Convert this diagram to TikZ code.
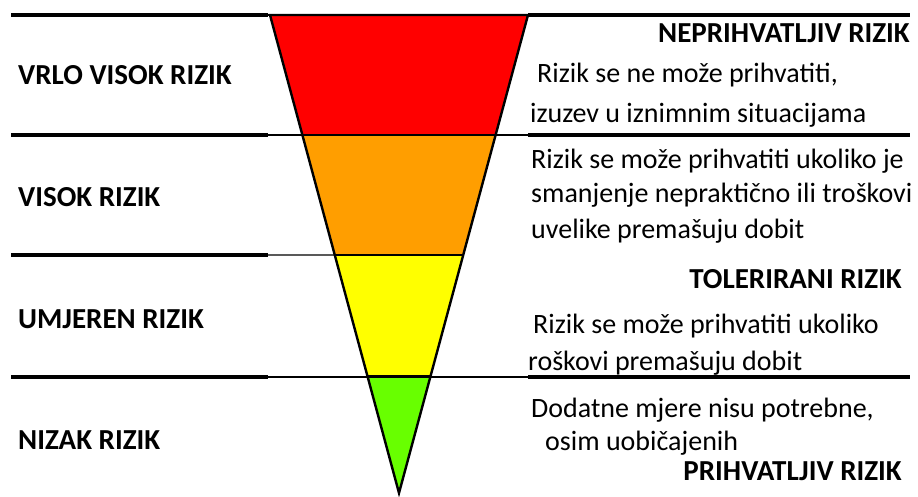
\documentclass[tikz,border=0pt]{standalone}
\usepackage{fontspec}
\setmainfont{Carlito}
\usetikzlibrary{calc}
\definecolor{xred}{RGB}{255,0,0}
\definecolor{xorange}{RGB}{255,158,0}
\definecolor{xyellow}{RGB}{255,255,0}
\definecolor{xgreen}{RGB}{104,255,0}

\begin{document}
\begin{tikzpicture}[x=1pt, y=-1pt, every node/.style={inner sep=0pt, font=\fontsize{28}{34}\selectfont}]
			\tikzset{
				lvl/.style={anchor=base west, font=\fontsize{29}{34}\selectfont\bfseries},
				tag/.style={anchor=base east, font=\fontsize{29}{34}\selectfont\bfseries},
				note/.style={anchor=base west},
				thickrule/.style={line width=3.3pt},
				thinrule/.style={line width=1.4pt},
				edge/.style={line width=2.4pt, line join=miter}
			}
			\useasboundingbox (0,0) rectangle (918,497);
			% funnel corners
			\coordinate (tl) at (270,15);
			\coordinate (tr) at (528,15);
			\coordinate (apex) at (399,493);
			\coordinate (l1) at ($(tl)!0.2510!(apex)$);
			\coordinate (r1) at ($(tr)!0.2510!(apex)$);
			\coordinate (l2) at ($(tl)!0.5021!(apex)$);
			\coordinate (r2) at ($(tr)!0.5021!(apex)$);
			\coordinate (l3) at ($(tl)!0.7552!(apex)$);
			\coordinate (r3) at ($(tr)!0.7552!(apex)$);
			\fill[xred] (tl) -- (tr) -- (r1) -- (l1) -- cycle;
			\fill[xorange] (l1) -- (r1) -- (r2) -- (l2) -- cycle;
			\fill[xyellow] (l2) -- (r2) -- (r3) -- (l3) -- cycle;
			\fill[xgreen] (l3) -- (r3) -- (apex) -- cycle;
			% horizontal rules
			\draw[thickrule] (11,15) -- (268,15);
			\draw[thickrule] (11,135) -- (268,135);
			\draw[thickrule] (11,255) -- (268,255);
			\draw[thickrule] (11,377) -- (268,377);
			\draw[thinrule] (268,15) -- (530,15);
			\draw[thinrule] (268,135) -- (530,135);
			\draw[thinrule] (268,255) -- (l2);
			\draw[thinrule] (268,377) -- (530,377);
			\draw[thickrule] (528,15) -- (910,15);
			\draw[thickrule] (528,135) -- (910,135);
			\draw[thickrule] (528,377) -- (910,377);
			% funnel outline
			\draw[edge] (tl) -- (apex) -- (tr) -- cycle;
			\draw[edge] (l1) -- (r1);
			\draw[edge] (l2) -- (r2);
			\draw[edge] (l3) -- (r3);
			% left labels
			\node[lvl] (vrlo) at (18,85) {VRLO VISOK RIZIK};
			\node[lvl] (visok) at (18,207) {VISOK RIZIK};
			\node[lvl] (umjeren) at (18,328) {UMJEREN RIZIK};
			\node[lvl] (nizak) at (18,449) {NIZAK RIZIK};
			% right side
			\node[tag] (neprih) at (910,43) {NEPRIHVATLJIV RIZIK};
			\node[note] (n1) at (537,83) {Rizik se ne može prihvatiti,};
			\node[note] (n2) at (530,123) {izuzev u iznimnim situacijama};
			\node[note] (n3) at (531,169) {Rizik se može prihvatiti ukoliko je};
			\node[note] (n4) at (531,203) {smanjenje nepraktično ili troškovi};
			\node[note] (n5) at (531,238) {uvelike premašuju dobit};
			\node[tag] (toler) at (902,288) {TOLERIRANI RIZIK};
			\node[note] (n6) at (533,333) {Rizik se može prihvatiti ukoliko};
			\node[note] (n7) at (528,370) {roškovi premašuju dobit};
			\node[note] (n8) at (531,417) {Dodatne mjere nisu potrebne,};
			\node[note] (n9) at (545,450) {osim uobičajenih};
			\node[tag] (prihv) at (902,480) {PRIHVATLJIV RIZIK};
		\end{tikzpicture}
\end{document}
